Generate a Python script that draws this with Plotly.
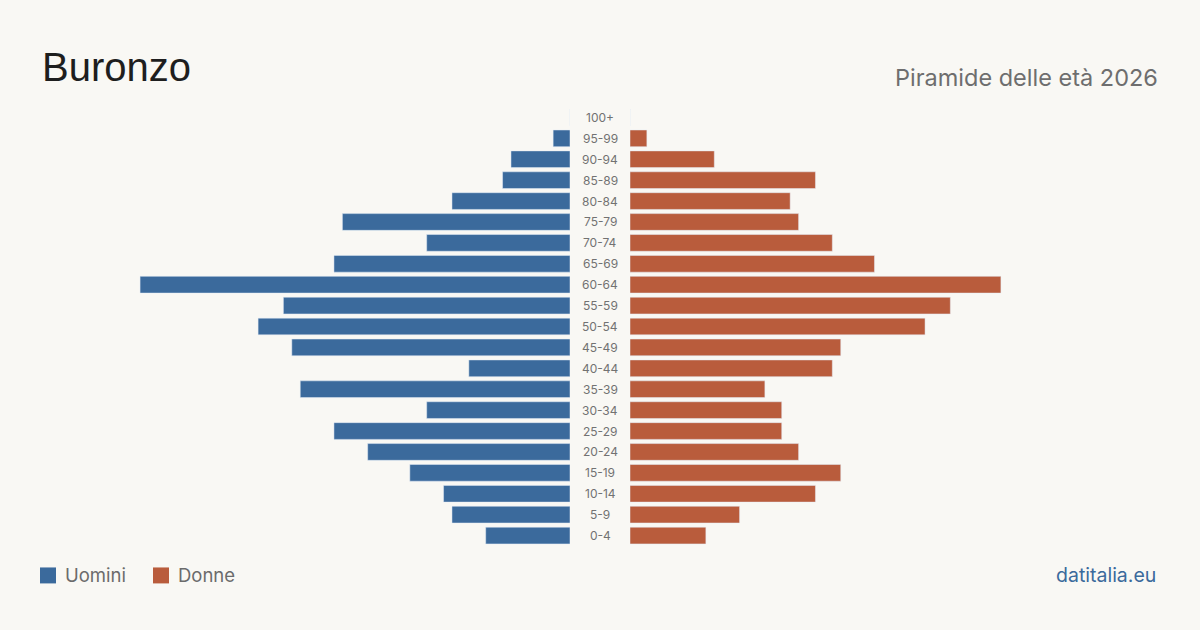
import plotly.graph_objects as go

age_groups = ["0-4", "5-9", "10-14", "15-19", "20-24", "25-29", "30-34", "35-39",
              "40-44", "45-49", "50-54", "55-59", "60-64", "65-69", "70-74", "75-79",
              "80-84", "85-89", "90-94", "95-99", "100+"]
uomini = [10, 14, 15, 19, 24, 28, 17, 32, 12, 33, 37, 34, 51, 28, 17, 27, 14, 8, 7, 2, 0]
donne = [9, 13, 22, 25, 20, 18, 18, 16, 24, 25, 35, 38, 44, 29, 24, 20, 19, 22, 10, 2, 0]

title = "Buronzo"
subtitle = "Piramide delle età 2026"
source = "datitalia.eu"
BLUE = "#3b6a9c"
ORANGE = "#b95c3c"
BG = "#f9f8f4"

W, H = 1200, 630
MT, MB = 106.5, 83.5
PH = H - MT - MB
PX_PER_UNIT = 8.43
left_dom = [120 / W, 570 / W]
right_dom = [630 / W, 1080 / W]
rng = 450 / PX_PER_UNIT


def py(pix):
    # convert a pixel y (from top of figure) to paper coordinates (plot area based)
    return (H - MB - pix) / PH


fig = go.Figure()
fig.add_trace(go.Bar(y=age_groups, x=uomini, orientation="h", marker_color=BLUE,
                     width=0.8, xaxis="x", yaxis="y", name="Uomini", hoverinfo="x+y"))
fig.add_trace(go.Bar(y=age_groups, x=donne, orientation="h", marker_color=ORANGE,
                     width=0.8, xaxis="x2", yaxis="y", name="Donne", hoverinfo="x+y"))

annotations = []
for g in age_groups:
    annotations.append(dict(x=0.5, xref="paper", y=g, yref="y", text=g, showarrow=False,
                            xanchor="center", yanchor="middle",
                            font=dict(family="Inter, Roboto, sans-serif", size=12, color="#727272")))
annotations += [
    dict(x=40 / W, y=py(66), xref="paper", yref="paper", text=title, showarrow=False,
         xanchor="left", yanchor="middle",
         font=dict(family="Liberation Sans, Arial, sans-serif", size=40, color="#1e1e1e")),
    dict(x=1160 / W, y=py(77), xref="paper", yref="paper", text=subtitle, showarrow=False,
         xanchor="right", yanchor="middle",
         font=dict(family="Inter, Roboto, sans-serif", size=23.5, color="#6e6e6e")),
    dict(x=63 / W, y=py(576), xref="paper", yref="paper", text="Uomini", showarrow=False,
         xanchor="left", yanchor="middle",
         font=dict(family="Inter, Roboto, sans-serif", size=18.5, color="#6b6b6b")),
    dict(x=176 / W, y=py(576), xref="paper", yref="paper", text="Donne", showarrow=False,
         xanchor="left", yanchor="middle",
         font=dict(family="Inter, Roboto, sans-serif", size=18.5, color="#6b6b6b")),
    dict(x=1158 / W, y=py(576), xref="paper", yref="paper", text=source, showarrow=False,
         xanchor="right", yanchor="middle",
         font=dict(family="Inter, Roboto, sans-serif", size=19.5, color=BLUE)),
]
shapes = [
    dict(type="rect", xref="paper", yref="paper", x0=40 / W, x1=56 / W,
         y0=py(584), y1=py(568), fillcolor=BLUE, line_width=0),
    dict(type="rect", xref="paper", yref="paper", x0=153 / W, x1=169 / W,
         y0=py(584), y1=py(568), fillcolor=ORANGE, line_width=0),
]

fig.update_layout(
    width=W, height=H, paper_bgcolor=BG, plot_bgcolor=BG,
    margin=dict(l=0, r=0, t=MT, b=MB),
    showlegend=False, barmode="overlay",
    xaxis=dict(domain=left_dom, range=[rng, 0], visible=False, fixedrange=True),
    xaxis2=dict(domain=right_dom, range=[0, rng], visible=False, fixedrange=True),
    yaxis=dict(categoryorder="array", categoryarray=age_groups, range=[-0.5, 20.5],
               visible=False, fixedrange=True),
    annotations=annotations, shapes=shapes,
)
fig.write_html("out.html")
